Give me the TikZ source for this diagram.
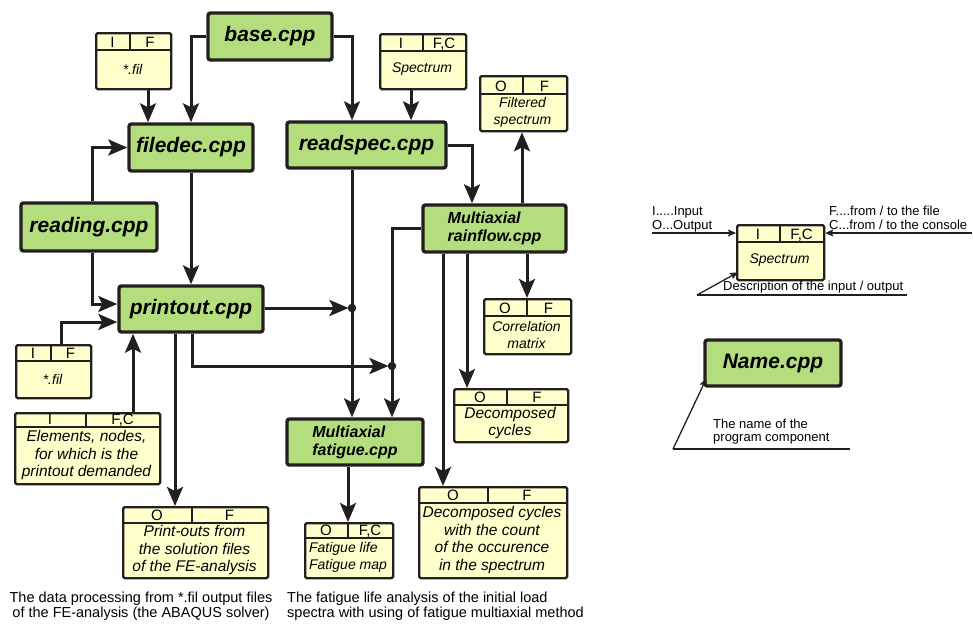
\documentclass[tikz,border=0pt]{standalone}
\usepackage{fontspec}
\setmainfont{Liberation Sans}
\usetikzlibrary{arrows.meta,calc}
\definecolor{prgreen}{RGB}{180,221,126}
\definecolor{ioyellow}{RGB}{255,255,204}
\definecolor{ink}{RGB}{35,31,32}
\tikzset{
 prog/.style={draw=ink, fill=prgreen, line width=3.4pt, rounded corners=2.5pt, inner sep=0pt, text=black, font=\bfseries\itshape\fontsize{21}{24}\selectfont},
 progsm/.style={prog, align=left, font=\bfseries\itshape\fontsize{16}{18}\selectfont},
 iobox/.style={draw=ink, fill=ioyellow, line width=2.3pt, rounded corners=1.5pt, inner sep=0pt},
 iodiv/.style={draw=ink, line width=1.9pt},
 hdr/.style={anchor=base, inner sep=0pt, font=\fontsize{15}{17}\selectfont},
 body/.style={inner sep=0pt, align=center, font=\itshape\fontsize{14}{17}\selectfont},
 bodyL/.style={inner sep=0pt, align=center, font=\itshape\fontsize{15.5}{17.5}\selectfont},
 conn/.style={draw=ink, line width=3pt},
 arr/.style={conn, -{Stealth[length=19pt,width=16pt,inset=4pt]}},
 jdot/.style={fill=ink, circle, inner sep=0pt, minimum size=8.5pt},
 note/.style={anchor=base west, inner sep=0pt, font=\fontsize{14.5}{17}\selectfont},
 legtext/.style={anchor=base west, inner sep=0pt, font=\fontsize{13}{15}\selectfont},
 legline/.style={draw=ink, line width=1.3pt},
 legarr/.style={legline, -{Stealth[length=8pt,width=7pt,inset=1.5pt]}},
}
% #1 name, #2 x1, #3 y1, #4 x2, #5 y2, #6 y of header line, #7 x of column line, #8 left label, #9 right label
\newcommand\IObox[9]{%
  \node[iobox, anchor=north west, minimum width={#4-#2}, minimum height={#5-#3}] (#1) at (#2,#3) {};
  \draw[iodiv] (#2,#6) -- (#4,#6) (#7,#3) -- (#7,#6);
  \node[hdr] (#1L) at ({(#2+#7)/2},{#6-2.5}) {#8};
  \node[hdr] (#1R) at ({(#7+#4)/2},{#6-2.5}) {#9};
}
\begin{document}
\begin{tikzpicture}[x=1pt,y=-1pt]
\useasboundingbox (0,0) rectangle (973,624);

% guide coordinates
\coordinate (x61) at (61,0);
\coordinate (x92) at (92,0);
\coordinate (x133) at (133,0);
\coordinate (x148) at (148,0);
\coordinate (x175) at (175,0);
\coordinate (x192) at (192,0);
\coordinate (x348) at (348,0);
\coordinate (x411) at (411,0);
\coordinate (x443) at (443,0);
\coordinate (x467) at (467,0);
\coordinate (x472) at (472,0);
\coordinate (x522) at (522,0);
\coordinate (x527) at (527,0);
\coordinate (y304) at (0,304);
\coordinate (y322) at (0,322);
\coordinate (j1) at (352,308);
\coordinate (j2) at (392,366);

% program components
\node[prog, minimum width=124, minimum height=47] (base) at (270,36.5) {base.cpp};
\node[prog, minimum width=124, minimum height=47] (filedec) at (191,147.5) {filedec.cpp};
\node[prog, minimum width=136, minimum height=48] (reading) at (89,227) {reading.cpp};
\node[prog, minimum width=144, minimum height=46] (printout) at (191,309) {printout.cpp};
\node[prog, minimum width=159, minimum height=46] (readspec) at (366.5,145) {readspec.cpp};
\node[progsm, minimum width=143, minimum height=47] (rainflow) at (494.5,228.5) {Multiaxial\\rainflow.cpp};
\node[progsm, minimum width=136, minimum height=46] (fatigue) at (355,442) {Multiaxial\\fatigue.cpp};
\node[prog, minimum width=136, minimum height=46] (name) at (773,363) {Name.cpp};

% input / output boxes
\IObox{fil1}{95}{32}{170}{88}{50}{130}{I}{F}
\node[body] (fil1B) at (132.5,69) {*.fil};
\IObox{spec}{379}{33}{465}{88}{51}{423}{I}{F,C}
\node[body] (specB) at (422,69.5) {Spectrum};
\IObox{filt}{479}{75}{566}{130}{94}{523}{O}{F}
\node[body] (filtB) at (522.5,112) {Filtered\\spectrum};
\IObox{fil2}{15}{344}{90}{397}{361}{51}{I}{F}
\node[body] (fil2B) at (52.5,379) {*.fil};
\IObox{elem}{14}{412}{159}{483}{427}{86}{I}{F,C}
\node[bodyL] (elemB) at (86.5,455) {Elements, nodes,\\for which is the\\printout demanded};
\IObox{outbox}{122}{506}{267}{577}{523}{192}{O}{F}
\node[bodyL] (outboxB) at (194.5,550) {Print-outs from\\the solution files\\of the FE-analysis};
\IObox{corr}{483}{298}{570}{353}{316}{527}{O}{F}
\node[body] (corrB) at (526.5,334.5) {Correlation\\matrix};
\IObox{decomp}{453}{388}{567}{441}{405}{507}{O}{F}
\node[bodyL] (decompB) at (510,423) {Decomposed\\cycles};
\IObox{count}{418}{486}{566}{577}{503}{488}{O}{F}
\node[bodyL] (countB) at (492,540) {Decomposed cycles\\with the count\\of the occurence\\in the spectrum};
\IObox{flife}{304}{522}{392}{577}{538}{348}{O}{F,C}
\node[body, align=left] (flifeB) at (348,557.5) {Fatigue life\\Fatigue map};
\IObox{legend}{736}{224}{823}{279}{242}{780}{I}{F,C}
\node[body] (legendB) at (779.5,260.5) {Spectrum};

% connectors
\draw[arr] (base.west) -| (filedec.north);
\draw[arr] (base.east) -| (readspec.north -| j1);
\draw[arr] (fil1.south -| x148) -- (filedec.north -| x148);
\draw[arr] (spec.south -| x411) -- (readspec.north -| x411);
\draw[arr] (reading.north -| x92) |- (filedec.west);
\draw[arr] (reading.south -| x92) |- (printout.west |- y304);
\draw[arr] (filedec.south) -- (printout.north);
\draw[arr] (fil2.north -| x61) |- (printout.west |- y322);
\draw[arr] (elem.north -| x133) -- (printout.south -| x133);
\draw[arr] (printout.south -| x175) -- (outbox.north -| x175);
\draw[arr, shorten >=3.5pt] (printout.east |- j1) -- (j1);
\draw[arr, shorten >=3.5pt] (printout.south -| x192) |- (j2);
\draw[arr] (readspec.south -| j1) -- (fatigue.north -| j1);
\draw[arr] (rainflow.west) -| (fatigue.north -| j2);
\draw[arr] (readspec.east) -| (rainflow.north -| x472);
\draw[arr] (rainflow.north -| x522) -- (filt.south -| x522);
\draw[arr] (rainflow.south -| x527) -- (corr.north -| x527);
\draw[arr] (rainflow.south -| x467) -- (decomp.north -| x467);
\draw[arr] (rainflow.south -| x443) -- (count.north -| x443);
\draw[arr] (fatigue.south -| x348) -- (flife.north -| x348);
\node[jdot] (j1dot) at (j1) {};
\node[jdot] (j2dot) at (j2) {};

% legend
\coordinate (lin) at (652,233);
\coordinate (rin) at (972,233);
\draw[legarr] (lin) -- (lin -| legend.west);
\draw[legarr] (rin) -- (rin -| legend.east);
\coordinate (d0) at (697,295);
\coordinate (d1) at (907,295);
\draw[legline] (d1) -- (d0);
\draw[legarr] (d0) -- ($(legend.south west)+(2,-9)$);
\coordinate (n0) at (673,449);
\coordinate (n1) at (850,449);
\draw[legline] (n1) -- (n0);
\draw[legarr] (n0) -- ($(name.south west)+(3,-9)$);
\node[legtext] (tI) at (652,215) {I.....Input};
\node[legtext] (tO) at (652,229) {O...Output};
\node[legtext] (tF) at (829,215) {F....from / to the file};
\node[legtext] (tC) at (829,229) {C...from / to the console};
\node[legtext] (tD) at (723,290) {Description of the input / output};
\node[legtext] (tN1) at (713,428) {The name of the};
\node[legtext] (tN2) at (713,441) {program component};

% captions
\node[note, anchor=base] (b1) at (141,602) {The data processing from *.fil output files};
\node[note, anchor=base] (b2) at (141,617) {of the FE-analysis (the ABAQUS solver)};
\node[note] (b3) at (287,602) {The fatigue life analysis of the initial load};
\node[note] (b4) at (287,617) {spectra with using of fatigue multiaxial method};
\end{tikzpicture}
\end{document}
